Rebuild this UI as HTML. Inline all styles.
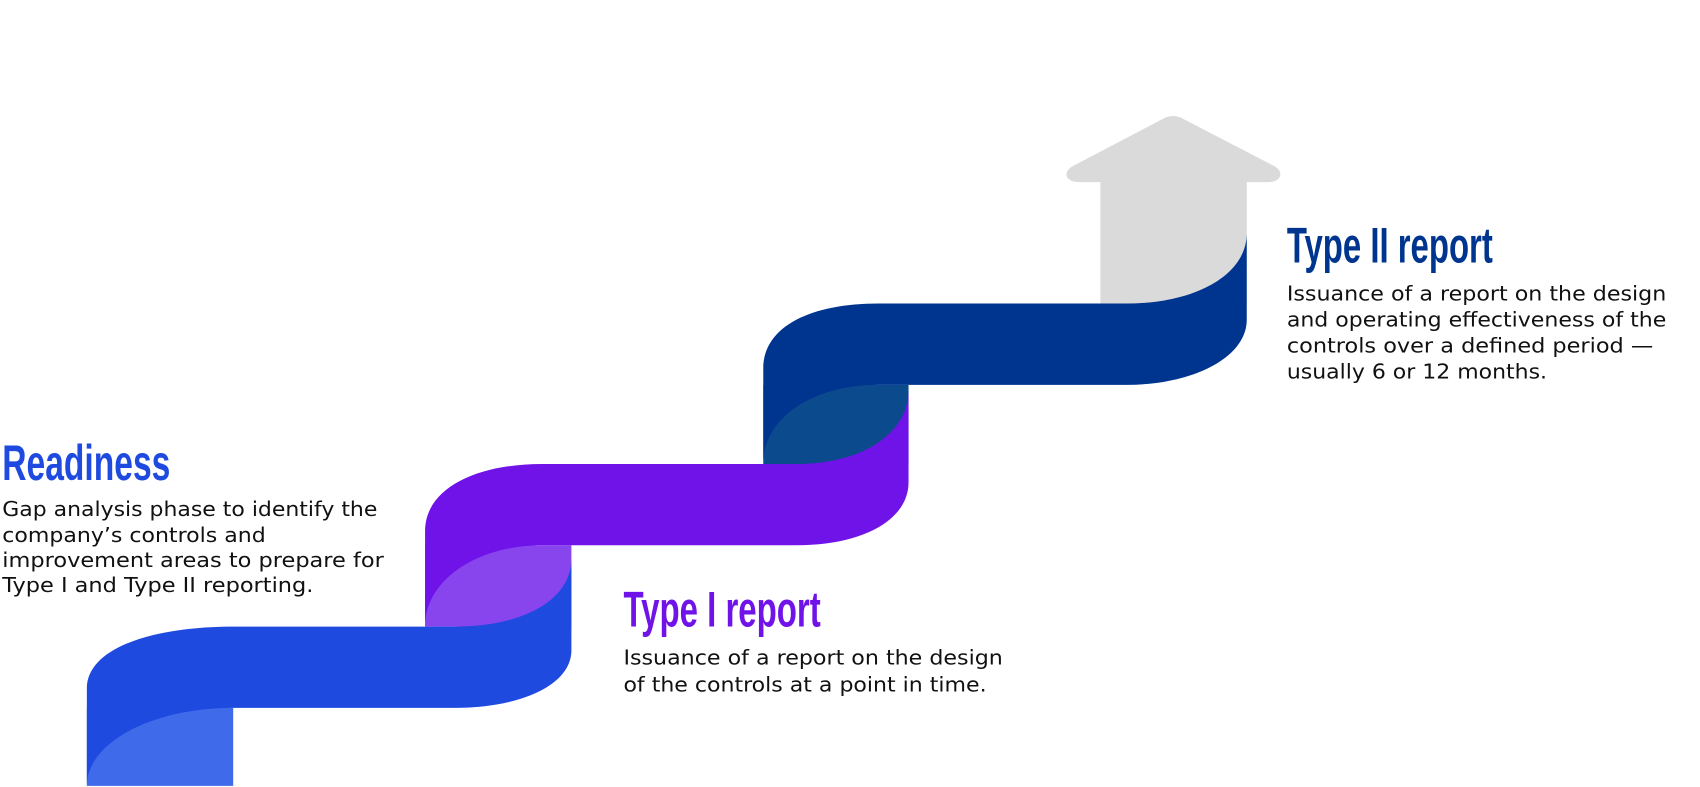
<!DOCTYPE html>
<html><head><meta charset="utf-8"><style>
html,body{margin:0;padding:0;background:#fff;width:1700px;height:787px;overflow:hidden}
svg{display:block}
.h{font-family:"Liberation Sans",sans-serif;font-weight:bold;font-size:46px}
.b{font-family:"DejaVu Sans",sans-serif;font-size:19px;fill:#111}
</style></head><body>
<svg width="1700" height="787" viewBox="0 0 1568 726" xmlns="http://www.w3.org/2000/svg">
<path d="M1015,280 L1015,168 L995,168 C982,168 980,158 990,153 L1072,110 C1078,106 1086,106 1092,110 L1175,153 C1185,158 1182,168 1170,168 L1150,168 L1150,280 Z" fill="#DADADA"/>
<path d="M704,355 L838,355 L838,428 L704,428 Z" fill="#0B4A8C"/>
<path d="M704,428 L704,340 C704,300 750,280 810,280 L1040,280 C1100,280 1150,255 1150,215 L1150,295 C1150,330 1100,355 1040,355 L810,355 C750,355 704,385 704,428 Z" fill="#00358F"/>
<path d="M392,503 L527,503 L527,578 L392,578 Z" fill="#8845EE"/>
<path d="M392,578 L392,490 C392,450 440,428 500,428 L735,428 C795,428 838,400 838,360 L838,445 C838,480 795,503 735,503 L500,503 C440,503 392,535 392,578 Z" fill="#7013E8"/>
<path d="M80,653 L215,653 L215,725 L80,725 Z" fill="#3F6BEB"/>
<path d="M80,725 L80,635 C80,598 140,578 215,578 L420,578 C480,578 527,555 527,515 L527,600 C527,632 480,653 420,653 L215,653 C140,653 80,685 80,725 Z" fill="#1F4AE0"/>
<text class="h" x="2" y="443" fill="#1F4AE0" textLength="155" lengthAdjust="spacingAndGlyphs">Readiness</text>
<text class="b" x="2" y="476" textLength="346" lengthAdjust="spacingAndGlyphs">Gap analysis phase to identify the</text>
<text class="b" x="2" y="500" textLength="243" lengthAdjust="spacingAndGlyphs">company’s controls and</text>
<text class="b" x="2" y="523" textLength="352" lengthAdjust="spacingAndGlyphs">improvement areas to prepare for</text>
<text class="b" x="2" y="546" textLength="287" lengthAdjust="spacingAndGlyphs">Type I and Type II reporting.</text>
<text class="h" x="575" y="578" fill="#7013E8" textLength="182" lengthAdjust="spacingAndGlyphs">Type I report</text>
<text class="b" x="575" y="613" textLength="350" lengthAdjust="spacingAndGlyphs">Issuance of a report on the design</text>
<text class="b" x="575" y="638" textLength="335" lengthAdjust="spacingAndGlyphs">of the controls at a point in time.</text>
<text class="h" x="1187" y="242" fill="#00358F" textLength="190" lengthAdjust="spacingAndGlyphs">Type II report</text>
<text class="b" x="1187" y="277" textLength="350" lengthAdjust="spacingAndGlyphs">Issuance of a report on the design</text>
<text class="b" x="1187" y="301" textLength="350" lengthAdjust="spacingAndGlyphs">and operating effectiveness of the</text>
<text class="b" x="1187" y="325" textLength="338" lengthAdjust="spacingAndGlyphs">controls over a defined period —</text>
<text class="b" x="1187" y="349" textLength="240" lengthAdjust="spacingAndGlyphs">usually 6 or 12 months.</text>
</svg>
</body></html>
